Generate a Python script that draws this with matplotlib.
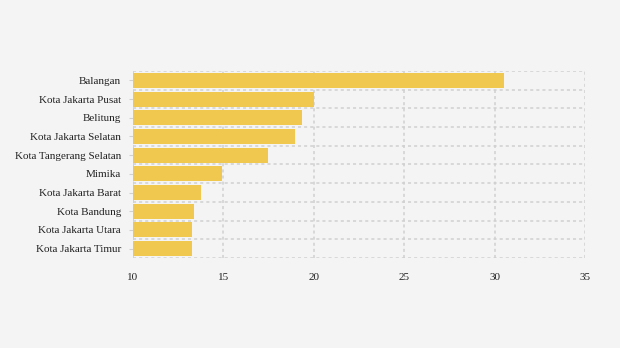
import numpy as np
import matplotlib.pyplot as plt

daerah = ["Balangan", "Kota Jakarta Pusat", "Belitung", "Kota Jakarta Selatan",
          "Kota Tangerang Selatan", "Mimika", "Kota Jakarta Barat", "Kota Bandung",
          "Kota Jakarta Utara", "Kota Jakarta Timur"]
nilai = [30.5, 20.0, 19.35, 18.95, 17.45, 14.9, 13.75, 13.4, 13.25, 13.25]
x_ticks = [10, 15, 20, 25, 30, 35]

plt.rcParams['font.family'] = ['Liberation Serif', 'DejaVu Serif']

fig = plt.figure(figsize=(6.2, 3.48), dpi=100)
fig.patch.set_facecolor("#f4f4f4")
ax = fig.add_axes([0.2145, 0.2586, 0.729, 0.5374])
ax.set_facecolor("#f4f4f4")

y = np.arange(len(daerah))
base = x_ticks[0]
ax.barh(y, np.array(nilai) - base, left=base, height=0.8, color="#f0c850", zorder=2)

ax.set_xlim(x_ticks[0], x_ticks[-1])
ax.set_ylim(len(daerah) - 0.5, -0.5)
ax.set_xticks(x_ticks)
ax.set_yticks(y)
ax.set_yticklabels(daerah)
ax.set_yticks(np.arange(len(daerah) + 1) - 0.5, minor=True)

grid_kw = dict(color="#d0d0d0", linestyle=(0, (2, 2)), linewidth=1.1, zorder=0)
ax.grid(axis="x", which="major", **grid_kw)
ax.grid(axis="y", which="minor", **grid_kw)
ax.axvline(x_ticks[0], **grid_kw)
for s in ax.spines.values():
    s.set_visible(False)

ax.tick_params(axis="x", length=0, labelsize=8, colors="#222222", pad=11)
ax.tick_params(axis="y", which="major", length=3, color="#d0d0d0", labelsize=8,
               labelcolor="#222222", pad=5.6)
ax.tick_params(axis="y", which="minor", length=0)

fig.savefig("out.png", dpi=100, facecolor=fig.get_facecolor())
